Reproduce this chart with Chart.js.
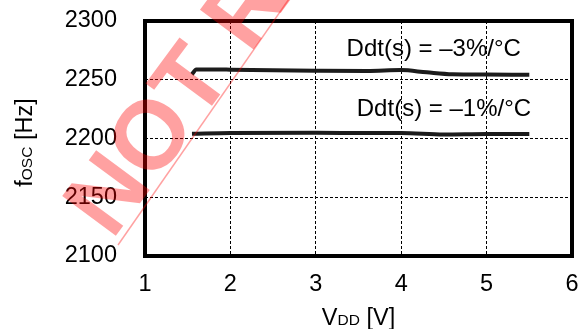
<!DOCTYPE html>
<html>
<head>
<meta charset="utf-8">
<script src="https://cdn.jsdelivr.net/npm/chart.js@4/dist/chart.umd.min.js"></script>
<style>
  html, body { margin: 0; padding: 0; background: #fff; }
  #wrap { width: 582px; height: 329px; position: relative; }
</style>
</head>
<body>
<div id="wrap"><canvas id="chart1"></canvas></div>
<script>
// VDD [V] vs fOSC [Hz] for two Ddt(s) settings
const xTicks = [1, 2, 3, 4, 5, 6];
const yTicks = [2100, 2150, 2200, 2250, 2300];

const vdd3 = [1.55, 1.6, 2.0, 3.0, 3.6, 4.0, 4.3, 4.6, 5.0, 5.5];
const fosc3 = [2254.6, 2258.8, 2258.6, 2257.7, 2257.4, 2258.2, 2256.3, 2254.7, 2254.4, 2254.2];

const vdd1 = [1.55, 2.0, 3.0, 3.6, 4.0, 4.5, 5.0, 5.5];
const fosc1 = [2204.1, 2204.7, 2204.9, 2204.6, 2204.7, 2203.4, 2203.8, 2203.8];

const seriesNames = ['Ddt(s) = \u20133%/\u00b0C', 'Ddt(s) = \u20131%/\u00b0C'];

const FONT = '"Liberation Sans", Arial, Helvetica, sans-serif';
Chart.defaults.font.family = FONT;
Chart.defaults.color = '#000';

function toPoints(xs, ys) {
  return xs.map((x, i) => ({ x: x, y: ys[i] }));
}

// frame, curve labels and axis titles (with small-caps subscripts)
const decor = {
  id: 'decor',
  afterDraw(chart) {
    const ctx = chart.ctx;
    const a = chart.chartArea;
    const sx = chart.scales.x, sy = chart.scales.y;

    ctx.save();
    ctx.strokeStyle = '#000';
    ctx.lineWidth = 4;
    ctx.strokeRect(a.left, a.top, a.right - a.left, a.bottom - a.top);

    ctx.fillStyle = '#000';
    ctx.textBaseline = 'alphabetic';
    ctx.textAlign = 'left';
    ctx.font = '24px ' + FONT;
    ctx.fillText(seriesNames[0], sx.getPixelForValue(3.36), sy.getPixelForValue(2270.2));
    ctx.fillText(seriesNames[1], sx.getPixelForValue(3.48), sy.getPixelForValue(2219.1));

    // x title: VDD [V]
    const big = '23.5px ' + FONT, small = '15.5px ' + FONT;
    const xParts = [['V', big], ['DD', small], [' [V]', big]];
    drawParts(ctx, xParts, (a.left + a.right) / 2, 324.5);

    // y title: fOSC [Hz]
    ctx.translate(32, 142.5);
    ctx.rotate(-Math.PI / 2);
    const yParts = [['f', big], ['OSC', small], [' [Hz]', big]];
    drawParts(ctx, yParts, 0, 0);
    ctx.restore();

    // NOT RECOMMENDED stamp + its thin rule
    ctx.save();
    ctx.fillStyle = 'rgba(255, 0, 0, 0.37)';
    ctx.strokeStyle = 'rgba(255, 0, 0, 0.37)';
    ctx.translate(112, 241);
    ctx.rotate(-53.5 * Math.PI / 180);
    ctx.font = 'bold 97px ' + FONT;
    ctx.textBaseline = 'alphabetic';
    ctx.fillText('NOT RECOMMENDED', 0, 0);
    ctx.restore();

    ctx.save();
    ctx.strokeStyle = 'rgba(255, 0, 0, 0.37)';
    ctx.lineWidth = 1.5;
    ctx.translate(118, 245);
    ctx.rotate(-55.2 * Math.PI / 180);
    ctx.beginPath();
    ctx.moveTo(0, 0);
    ctx.lineTo(1200, 0);
    ctx.stroke();
    ctx.restore();
  }
};

function drawParts(ctx, parts, cx, baseline) {
  let total = 0;
  parts.forEach(p => { ctx.font = p[1]; total += ctx.measureText(p[0]).width; });
  let x = cx - total / 2;
  ctx.textAlign = 'left';
  parts.forEach(p => {
    ctx.font = p[1];
    ctx.fillText(p[0], x, baseline);
    x += ctx.measureText(p[0]).width;
  });
}

const chart1 = new Chart(document.getElementById('chart1'), {
  type: 'line',
  data: {
    datasets: [{
      label: seriesNames[0],
      data: toPoints(vdd3, fosc3),
      borderColor: '#1c1c1c',
      borderWidth: 4,
      pointRadius: 0,
      cubicInterpolationMode: 'monotone',
    }, {
      label: seriesNames[1],
      data: toPoints(vdd1, fosc1),
      borderColor: '#1c1c1c',
      borderWidth: 4,
      pointRadius: 0,
      cubicInterpolationMode: 'monotone',
    }]
  },
  options: {
    responsive: true,
    maintainAspectRatio: false,
    animation: false,
    layout: { padding: { top: 21, right: 10, left: 0, bottom: 0 } },
    plugins: { legend: { display: false }, tooltip: { enabled: false } },
    scales: {
      x: {
        type: 'linear',
        min: xTicks[0],
        max: xTicks[xTicks.length - 1],
        afterBuildTicks: (s) => { s.ticks = xTicks.map(v => ({ value: v })); },
        afterFit: (s) => { s.height = 73; s.paddingLeft = 0; s.paddingRight = 0; },
        ticks: { padding: 14, font: { size: 23.5 }, color: '#000', maxRotation: 0, callback: v => String(v) },
        grid: { color: '#000', lineWidth: 1, drawTicks: false },
        border: { display: false, dash: [3, 2] },
      },
      y: {
        type: 'linear',
        min: yTicks[0],
        max: yTicks[yTicks.length - 1],
        afterBuildTicks: (s) => { s.ticks = yTicks.map(v => ({ value: v })); },
        afterFit: (s) => { s.width = 145; s.paddingTop = 0; s.paddingBottom = 0; },
        ticks: { padding: 28, font: { size: 23.5 }, color: '#000', callback: v => String(v) },
        grid: { color: '#000', lineWidth: 1, drawTicks: false },
        border: { display: false, dash: [3, 2] },
      }
    }
  },
  plugins: [decor]
});
</script>
</body>
</html>
